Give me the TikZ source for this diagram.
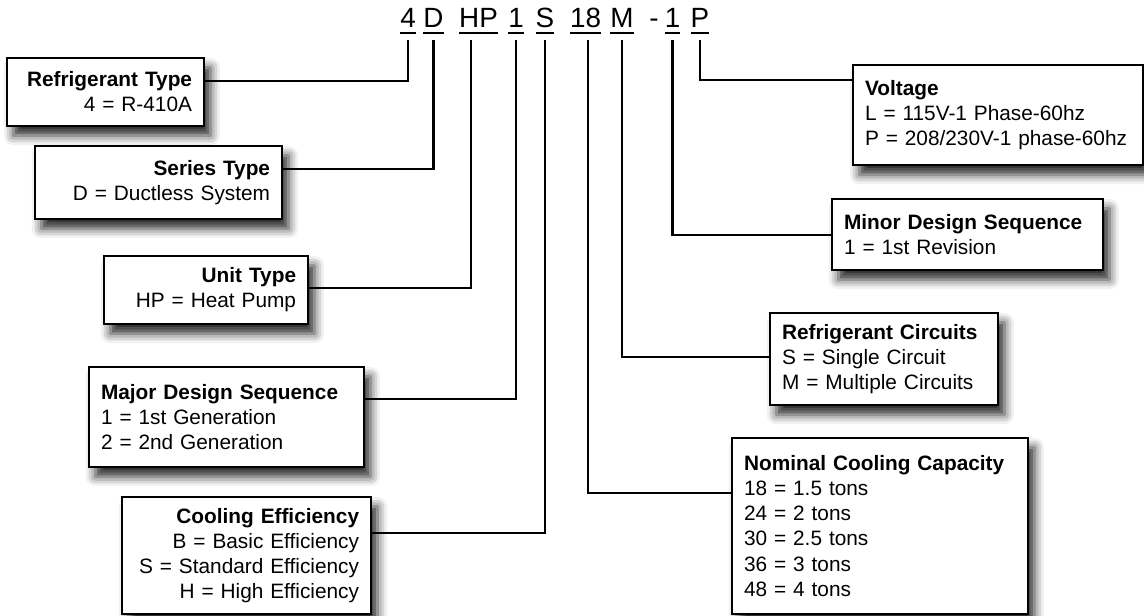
\documentclass[tikz,border=0pt]{standalone}
\usepackage{fontspec}
\setmainfont{Liberation Sans}
\usetikzlibrary{positioning, calc, shadows.blur}

\begin{document}
\begin{tikzpicture}[
  x=0.025cm, y=-0.025cm,
  lw/.style={line width=1.5pt},
  box/.style={draw, line width=1.7pt, fill=white, outer sep=0pt, inner xsep=0.3cm, inner ysep=0pt, anchor=north west,
    font=\fontsize{14.8}{17.8}\selectfont,
    blur shadow={shadow xshift=0.16cm, shadow yshift=-0.24cm, shadow blur radius=0.24cm, shadow opacity=85}},
  code/.style={font=\fontsize{19.8}{22}\selectfont, inner xsep=0pt, inner ysep=0.125cm, outer sep=0pt, text depth=0pt, anchor=base},
  uline/.style={lw},
  conn/.style={draw, lw, shorten >=0.175cm}
  ]
  \useasboundingbox (0,0) rectangle (1144,616);
  % model number
  \node[code] (c4) at (408,28) {4};
  \node[code] (cD) at (433.5,28) {D};
  \node[code] (cHP) at (478.5,28) {HP};
  \node[code] (c1a) at (516,28) {1};
  \node[code] (cS) at (545,28) {S};
  \node[code] (c18) at (585.5,28) {18};
  \node[code] (cM) at (622,28) {M};
  \node[code] (cdash) at (654,28) {-};
  \node[code] (c1b) at (672.5,28) {1};
  \node[code] (cP) at (700,28) {P};
  \foreach \c in {c4,cD,cHP,c1a,cS,c18,cM,c1b,cP}
    \draw[uline] (\c.south west) -- (\c.south east);
  % left side
  \node[box, align=right, text width=4.325cm, minimum height=1.7cm] (reftype) at (7,58)
    {\textbf{Refrigerant Type}\\4 = R-410A};
  \node[box, align=right, text width=5.575cm, minimum height=1.825cm] (series) at (35,146)
    {\textbf{Series Type}\\D = Ductless System};
  \node[box, align=right, text width=4.5cm, minimum height=1.7cm] (unittype) at (104,256)
    {\textbf{Unit Type}\\HP = Heat Pump};
  \node[box, align=left, text width=6.275cm, minimum height=2.5cm] (majorseq) at (89,367)
    {\textbf{Major Design Sequence}\\1 = 1st Generation\\2 = 2nd Generation};
  \node[box, align=right, text width=5.625cm, minimum height=2.925cm] (cooling) at (122,497)
    {\textbf{Cooling Efficiency}\\B = Basic Efficiency\\S = Standard Efficiency\\H = High Efficiency};
  % right side
  \node[box, align=left, text width=6.65cm, minimum height=2.5cm] (voltage) at (853,65)
    {\textbf{Voltage}\\L = 115V-1 Phase-60hz\\P = 208/230V-1 phase-60hz};
  \node[box, align=left, text width=6.175cm, minimum height=1.775cm] (minorseq) at (832,199)
    {\textbf{Minor Design Sequence}\\1 = 1st Revision};
  \node[box, align=left, text width=5.1cm, minimum height=2.3cm] (refcirc) at (770,313)
    {\textbf{Refrigerant Circuits}\\S = Single Circuit\\M = Multiple Circuits};
  \node[box, align=left, text width=6.8cm, minimum height=4.4cm] (capacity) at (732,438)
    {\textbf{Nominal Cooling Capacity}\\18 = 1.5 tons\\24 = 2 tons\\30 = 2.5 tons\\36 = 3 tons\\48 = 4 tons};
  % leaders
  \draw[conn] (reftype.north east) ++(0,23) -| (c4.south);
  \draw[conn] (series.north east) ++(0,23) -| (cD.south);
  \draw[conn] (unittype.north east) ++(0,32) -| ([xshift=-0.19cm]cHP.south);
  \draw[conn] (majorseq.north east) ++(0,32) -| (c1a.south);
  \draw[conn] (cooling.north east) ++(0,36) -| (cS.south);
  \draw[conn] (capacity.north west) ++(0,55) -| ([xshift=0.06cm]c18.south);
  \draw[conn] (refcirc.north west) ++(0,44) -| (cM.south);
  \draw[conn] (minorseq.north west) ++(0,36) -| (c1b.south);
  \draw[conn] (voltage.north west) ++(0,15) -| (cP.south);
\end{tikzpicture}
\end{document}
